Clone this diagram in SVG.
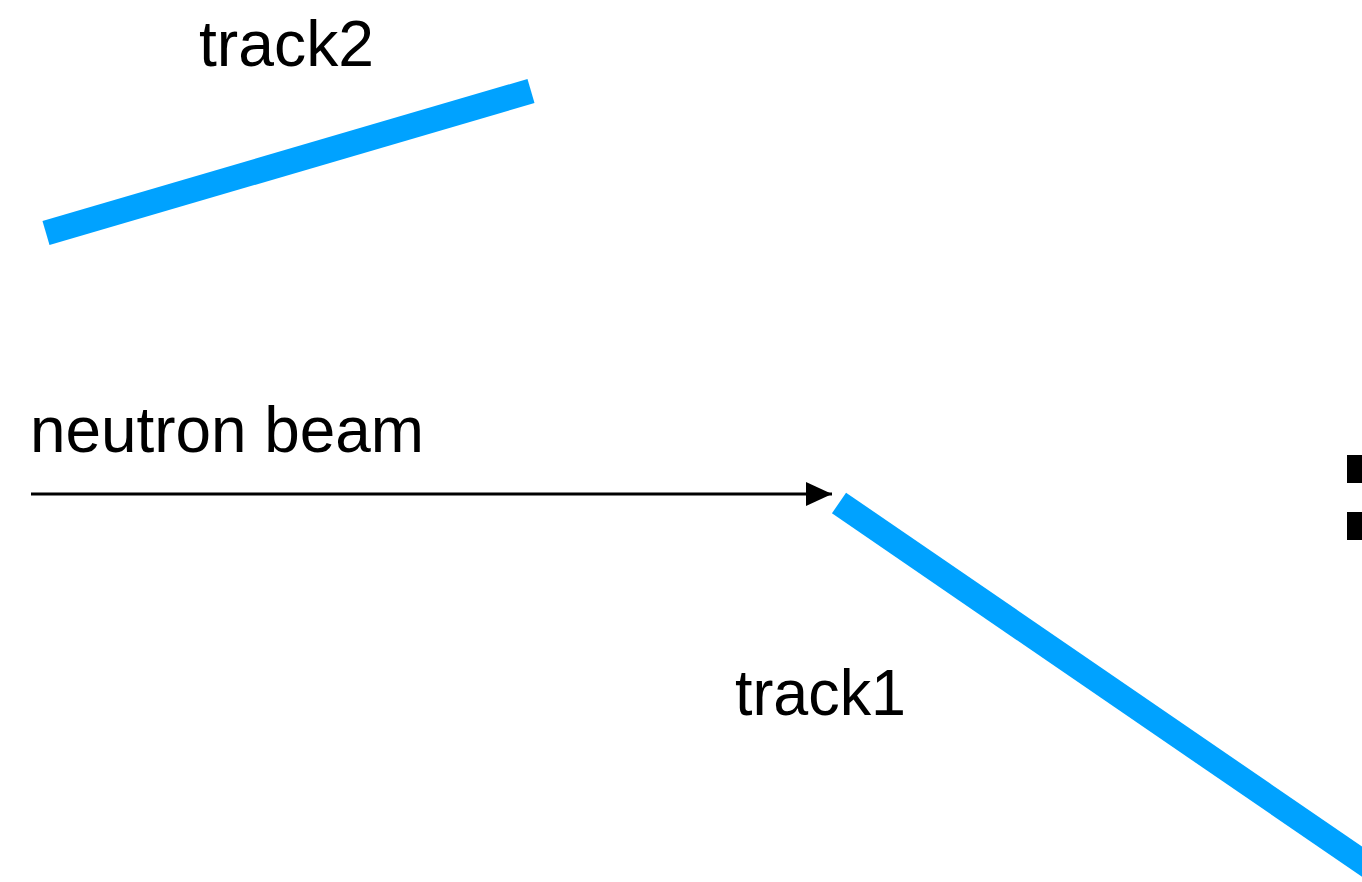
<svg xmlns="http://www.w3.org/2000/svg" width="1362" height="882" viewBox="0 0 1362 882">
<style>
.lbl{font-family:"Liberation Sans",Arial,sans-serif;font-size:64px;fill:#000}
.track{stroke:#00a2ff;stroke-width:25;stroke-linecap:butt;fill:none}
</style>
<defs>
<marker id="ah" markerUnits="userSpaceOnUse" markerWidth="28" markerHeight="24" refX="26" refY="12" orient="auto">
<path d="M0,0 L26,12 L0,24 Z" fill="#000"/>
</marker>
</defs>
<rect width="1362" height="882" fill="#fff"/>
<g id="track2">
<line class="track" x1="46" y1="233" x2="531" y2="91"/>
<text class="lbl" x="199" y="66" textLength="175" lengthAdjust="spacingAndGlyphs">track2</text>
</g>
<g id="track1">
<line class="track" x1="839" y1="503" x2="1380" y2="874"/>
<text class="lbl" x="735" y="715" textLength="171" lengthAdjust="spacingAndGlyphs">track1</text>
</g>
<g id="beam-label">
<text class="lbl" x="30" y="452" textLength="394" lengthAdjust="spacingAndGlyphs">neutron beam</text>
</g>
<g id="marks">
<rect x="1347" y="455" width="20" height="28" fill="#000"/>
<rect x="1347" y="512" width="20" height="28" fill="#000"/>
</g>
<g id="connectors">
<line x1="31" y1="494" x2="832" y2="494" stroke="#000" stroke-width="3" marker-end="url(#ah)"/>
</g>
</svg>
